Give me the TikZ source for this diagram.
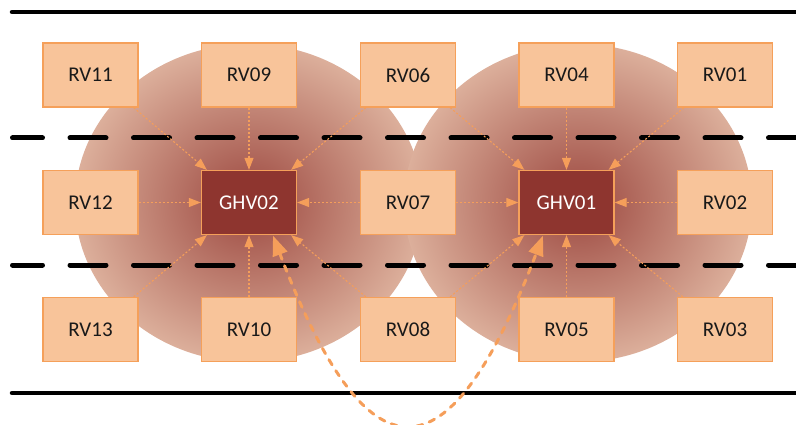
\documentclass[tikz,border=0pt]{standalone}
\usepackage{fontspec}
\setmainfont{Carlito}
\usetikzlibrary{arrows.meta,calc}
\definecolor{boxfill}{HTML}{F8C49A}
\definecolor{boxline}{HTML}{F5A05A}
\definecolor{ghvfill}{HTML}{8E352F}
\definecolor{arrowcol}{HTML}{F59E5A}
\definecolor{glowin}{HTML}{9C4840}
\definecolor{glowout}{HTML}{DCAF9B}
\tikzset{
  rvbox/.style={rectangle, minimum width=95pt, minimum height=64pt, inner sep=0pt,
    fill=boxfill, draw=boxline, line width=1.3pt, text=black!90,
    font=\fontsize{21}{25}\selectfont},
  ghvbox/.style={rvbox, fill=ghvfill, text=white},
  link/.style={draw=arrowcol, line width=1.1pt, dash pattern=on 2pt off 2pt,
    -{Triangle[length=12pt,width=9pt]}},
  hop/.style={draw=arrowcol, line width=3pt, line cap=round, dash pattern=on 6pt off 7pt,
    {Triangle[length=20pt,width=15pt]}-{Triangle[length=20pt,width=15pt]}},
  road/.style={line width=4.5pt, line cap=round, black},
  lane/.style={line width=5pt, line cap=round, black, dash pattern=on 36pt off 27.5pt, dash phase=6pt},
  glow/.style={inner color=glowin, outer color=glowout}
}
\begin{document}
\begin{tikzpicture}[x=1pt,y=-1pt]
\useasboundingbox (0,0) rectangle (796,425);
% coverage areas
\shade[glow] (249,203) ellipse [x radius=174pt, y radius=159pt];
\shade[glow] (578,203) ellipse [x radius=174pt, y radius=159pt];
% road lines
\draw[road] (12,12) -- (800,12);
\draw[road] (12,393) -- (800,393);
\draw[lane] (12.5,138) -- (800,138);
\draw[lane] (12.5,265) -- (800,265);
% nodes
\node[rvbox] (RV11) at (90.5,75) {RV11};
\node[rvbox] (RV09) at (249,75) {RV09};
\node[rvbox] (RV06) at (408,75) {RV06};
\node[rvbox] (RV04) at (566.5,75) {RV04};
\node[rvbox] (RV01) at (725,75) {RV01};
\node[rvbox] (RV12) at (90.5,202.5) {RV12};
\node[ghvbox] (GHV02) at (249,202.5) {GHV02};
\node[rvbox] (RV07) at (408,202.5) {RV07};
\node[ghvbox] (GHV01) at (566.5,202.5) {GHV01};
\node[rvbox] (RV02) at (725,202.5) {RV02};
\node[rvbox] (RV13) at (90.5,329.5) {RV13};
\node[rvbox] (RV10) at (249,329.5) {RV10};
\node[rvbox] (RV08) at (408,329.5) {RV08};
\node[rvbox] (RV05) at (566.5,329.5) {RV05};
\node[rvbox] (RV03) at (725,329.5) {RV03};
% links to GHV02
\draw[link] ($(RV11.south east)+(-5,0)$) -- ($(GHV02.north west)+(6,0)$);
\draw[link] (RV09.south) -- (GHV02.north);
\draw[link] ($(RV06.south west)+(6,0)$) -- ($(GHV02.north east)+(-6,0)$);
\draw[link] (RV12.east) -- (GHV02.west);
\draw[link] (RV07.west) -- (GHV02.east);
\draw[link] ($(RV13.north east)+(-5,0)$) -- ($(GHV02.south west)+(6,0)$);
\draw[link] (RV10.north) -- (GHV02.south);
\draw[link] ($(RV08.north west)+(6,0)$) -- ($(GHV02.south east)+(-6,0)$);
% links to GHV01
\draw[link] ($(RV06.south east)+(-6,0)$) -- ($(GHV01.north west)+(6,0)$);
\draw[link] (RV04.south) -- (GHV01.north);
\draw[link] ($(RV01.south west)+(7,0)$) -- ($(GHV01.north east)+(-6,0)$);
\draw[link] (RV07.east) -- (GHV01.west);
\draw[link] (RV02.west) -- (GHV01.east);
\draw[link] ($(RV08.north east)+(-6,0)$) -- ($(GHV01.south west)+(6,0)$);
\draw[link] (RV05.north) -- (GHV01.south);
\draw[link] ($(RV03.north west)+(6,0)$) -- ($(GHV01.south east)+(-6,0)$);
% hop between gateways
\draw[hop] ($(GHV02.south)+(24,0.5)$) .. controls +(95,249) and +(-95,249) .. ($(GHV01.south)+(-23.5,0.5)$);
\end{tikzpicture}
\end{document}
